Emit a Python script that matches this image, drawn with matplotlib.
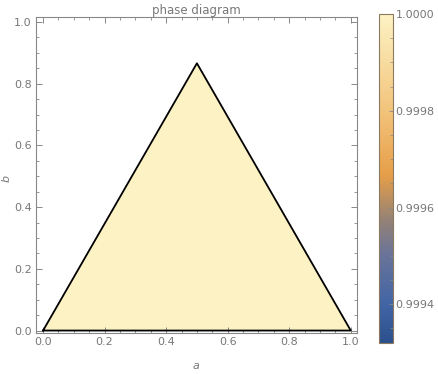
import numpy as np
import matplotlib.pyplot as plt
from matplotlib.colors import LinearSegmentedColormap, Normalize
from matplotlib.ticker import MultipleLocator, FixedLocator

# triangle corners (a, b) and the value at each corner
tri_a = [0.0, 0.5, 1.0]
tri_b = [0.0, 0.866, 0.0]
tri_val = [1.0, 1.0, 1.0]

vmin, vmax = 0.99932, 1.0
cb_ticks = [0.9994, 0.9996, 0.9998, 1.0]
cb_labels = ["0.9994", "0.9996", "0.9998", "1.0000"]

# Mathematica-like density gradient
cmap = LinearSegmentedColormap.from_list("m10", [
    (0.00, (44/255, 79/255, 140/255)),
    (0.12, (66/255, 101/255, 166/255)),
    (0.27, (106/255, 116/255, 152/255)),
    (0.38, (152/255, 131/255, 116/255)),
    (0.51, (230/255, 158/255, 72/255)),
    (0.71, (242/255, 196/255, 124/255)),
    (1.00, (253/255, 242/255, 196/255)),
])
norm = Normalize(vmin, vmax)

gray = "#777777"
frame = "#888888"

fig = plt.figure(figsize=(4.39, 3.74), dpi=100)
ax = fig.add_axes([0.082, 0.1096, 0.731, 0.845])

ax.tripcolor(tri_a, tri_b, tri_val, cmap=cmap, norm=norm, shading="gouraud")
ax.plot(tri_a + [tri_a[0]], tri_b + [tri_b[0]], color="black", lw=1.3)

ax.set_xlim(-0.023, 1.02)
ax.set_ylim(-0.008, 1.016)

for sp in ax.spines.values():
    sp.set_color(frame)
    sp.set_linewidth(0.8)

ax.xaxis.set_major_locator(MultipleLocator(0.2))
ax.yaxis.set_major_locator(MultipleLocator(0.2))
ax.xaxis.set_minor_locator(MultipleLocator(0.05))
ax.yaxis.set_minor_locator(MultipleLocator(0.05))
ax.xaxis.set_major_formatter(plt.FormatStrFormatter("%.1f"))
ax.yaxis.set_major_formatter(plt.FormatStrFormatter("%.1f"))
ax.tick_params(which="both", direction="in", top=True, right=True,
               color=frame, labelcolor=gray, labelsize=8, pad=3)
ax.tick_params(which="major", length=4, width=0.7)
ax.tick_params(which="minor", length=2, width=0.6)

ax.set_xlabel("a", color=gray, fontsize=8, style="italic")
ax.set_ylabel("b", color=gray, fontsize=8, style="italic")
ax.xaxis.set_label_coords(0.5, -0.09)
ax.yaxis.set_label_coords(-0.075, 0.49)
ax.set_title("phase diagram", color=gray, fontsize=8.5, pad=2)

cax = fig.add_axes([0.863, 0.0829, 0.032, 0.8797])
sm = plt.cm.ScalarMappable(norm=norm, cmap=cmap)
cb = fig.colorbar(sm, cax=cax)
cb.outline.set_edgecolor("#8a7a60")
cb.outline.set_linewidth(0.8)
cb.set_ticks(cb_ticks)
cb.set_ticklabels(cb_labels)
cax.yaxis.set_minor_locator(FixedLocator(np.arange(0.99935, 1.0, 0.00005)))
cax.tick_params(which="both", direction="in", color=frame, labelcolor=gray,
                labelsize=8, pad=2)
cax.tick_params(which="major", length=3, width=0.6)
cax.tick_params(which="minor", length=2, width=0.5)

fig.savefig("out.png", dpi=100)
